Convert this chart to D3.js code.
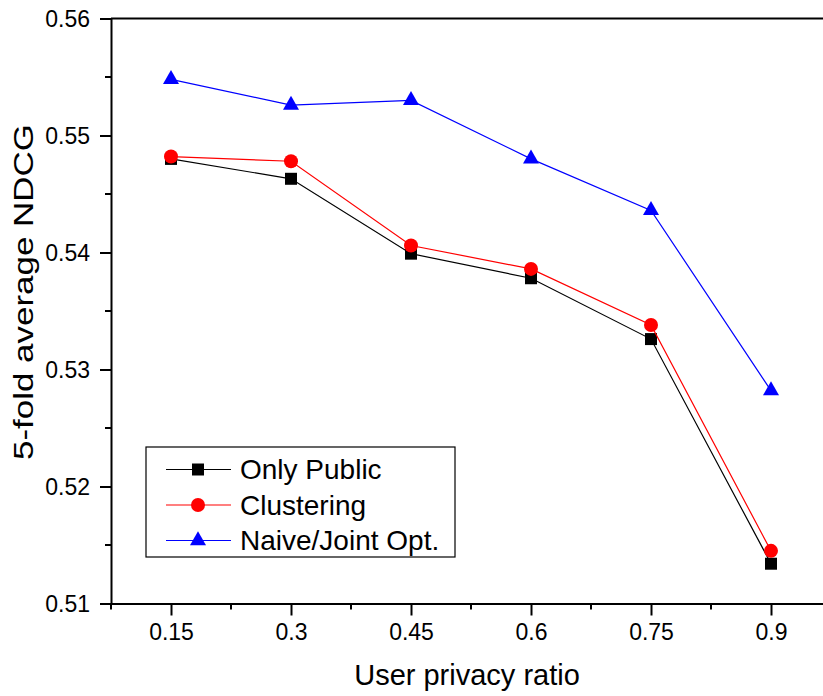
<!DOCTYPE html>
<html>
<head>
<meta charset="utf-8">
<script src="https://cdn.jsdelivr.net/npm/d3@7"></script>
<style>
  html, body { margin: 0; padding: 0; background: #fff; }
  svg { display: block; font-family: Arial, "Liberation Sans", Helvetica, sans-serif; }
</style>
</head>
<body>
<svg id="chart" width="823" height="696"></svg>
<script>
// Privacy ratios on the x axis
const ratios = [0.15, 0.3, 0.45, 0.6, 0.75, 0.9];
// 5-fold average NDCG per method
const onlyPublic = [0.5480, 0.5463, 0.5399, 0.5378, 0.5326, 0.5134];
const clustering = [0.5482, 0.5478, 0.5406, 0.5386, 0.5338, 0.5145];
const naiveJoint = [0.5548, 0.5526, 0.5530, 0.5480, 0.5436, 0.5282];
const seriesNames = ["Only Public", "Clustering", "Naive/Joint Opt."];
const xTickValues = [0.15, 0.3, 0.45, 0.6, 0.75, 0.9];
const yTickValues = [0.51, 0.52, 0.53, 0.54, 0.55, 0.56];

const svg = d3.select("#chart");

const x = d3.scaleLinear().domain([0.075, 0.975]).range([111, 831]);
const y = d3.scaleLinear().domain([0.51, 0.56]).range([603.5, 18.5]);

const axisColor = "#000";

// Top frame line
svg.append("line")
  .attr("x1", x(0.075)).attr("x2", x(0.975))
  .attr("y1", y(0.56)).attr("y2", y(0.56))
  .attr("stroke", axisColor).attr("stroke-width", 2);

// Minor ticks
const xMinor = d3.range(0, 7).map(i => 0.075 + i * 0.15);
const yMinor = d3.range(0, 5).map(i => 0.515 + i * 0.01);

svg.append("g").selectAll("line").data(xMinor).join("line")
  .attr("x1", d => x(d)).attr("x2", d => x(d))
  .attr("y1", y(0.51)).attr("y2", y(0.51) + 6)
  .attr("stroke", axisColor).attr("stroke-width", 2);

svg.append("g").selectAll("line").data(yMinor).join("line")
  .attr("x1", x(0.075) - 6).attr("x2", x(0.075))
  .attr("y1", d => y(d)).attr("y2", d => y(d))
  .attr("stroke", axisColor).attr("stroke-width", 2);

// Bottom axis
const xAxis = svg.append("g")
  .attr("transform", `translate(0,${y(0.51)})`)
  .call(d3.axisBottom(x).tickValues(xTickValues).tickSize(12).tickSizeOuter(0)
    .tickFormat(d => String(d)));
xAxis.select(".domain").attr("stroke", axisColor).attr("stroke-width", 2);
xAxis.selectAll(".tick line").attr("stroke", axisColor).attr("stroke-width", 2);
xAxis.selectAll(".tick text")
  .attr("font-size", 23).attr("font-family", "Arial, 'Liberation Sans', sans-serif")
  .attr("fill", "#000").attr("dy", null).attr("y", 36.5);

// Left axis
const yAxis = svg.append("g")
  .attr("transform", `translate(${x(0.075)},0)`)
  .call(d3.axisLeft(y).tickValues(yTickValues).tickSize(11).tickSizeOuter(0)
    .tickFormat(d3.format(".2f")));
yAxis.select(".domain").attr("stroke", axisColor).attr("stroke-width", 2);
yAxis.selectAll(".tick line").attr("stroke", axisColor).attr("stroke-width", 2);
yAxis.selectAll(".tick text")
  .attr("font-size", 23).attr("font-family", "Arial, 'Liberation Sans', sans-serif")
  .attr("fill", "#000").attr("x", -21).attr("dy", "0.35em");

// Axis titles
svg.append("text")
  .attr("x", 467).attr("y", 685)
  .attr("text-anchor", "middle")
  .attr("font-size", 29)
  .text("User privacy ratio");

svg.append("text")
  .attr("transform", "translate(33,292) rotate(-90)")
  .attr("text-anchor", "middle")
  .attr("font-size", 28)
  .attr("textLength", 336)
  .attr("lengthAdjust", "spacingAndGlyphs")
  .text("5-fold average NDCG");

// Marker shapes
const square = d3.symbol().type(d3.symbolSquare).size(12 * 12);
const triPath = (w, h) => `M0,${-2 * h / 3}L${w / 2},${h / 3}L${-w / 2},${h / 3}Z`;

const series = [
  { name: seriesNames[0], values: onlyPublic, color: "#000000", marker: "square" },
  { name: seriesNames[1], values: clustering, color: "#ff0000", marker: "circle" },
  { name: seriesNames[2], values: naiveJoint, color: "#0000ff", marker: "triangle" }
];

function drawMarker(g, type, color) {
  if (type === "square") {
    g.append("path").attr("d", square()).attr("fill", color);
  } else if (type === "circle") {
    g.append("circle").attr("r", 7).attr("fill", color);
  } else {
    g.append("path").attr("d", triPath(16, 14)).attr("fill", color);
  }
}

const line = d3.line().x(d => x(d[0])).y(d => y(d[1]));

series.forEach(s => {
  const pts = ratios.map((r, i) => [r, s.values[i]]);
  svg.append("path")
    .datum(pts)
    .attr("d", line)
    .attr("fill", "none")
    .attr("stroke", s.color)
    .attr("stroke-width", 1.2);
  pts.forEach(p => {
    const g = svg.append("g").attr("transform", `translate(${x(p[0])},${y(p[1])})`);
    drawMarker(g, s.marker, s.color);
  });
});

// Legend
const legend = svg.append("g");
legend.append("rect")
  .attr("x", 146).attr("y", 447).attr("width", 309).attr("height", 110)
  .attr("fill", "#fff").attr("stroke", "#000").attr("stroke-width", 1.2);

series.forEach((s, i) => {
  const cy = 469.5 + i * 35.5;
  legend.append("line")
    .attr("x1", 166).attr("x2", 231).attr("y1", cy).attr("y2", cy)
    .attr("stroke", s.color).attr("stroke-width", 1.2);
  const g = legend.append("g").attr("transform", `translate(198,${cy})`);
  drawMarker(g, s.marker, s.color);
  legend.append("text")
    .attr("x", 240).attr("y", cy).attr("dy", "0.35em")
    .attr("font-size", 28)
    .text(s.name);
});
</script>
</body>
</html>
